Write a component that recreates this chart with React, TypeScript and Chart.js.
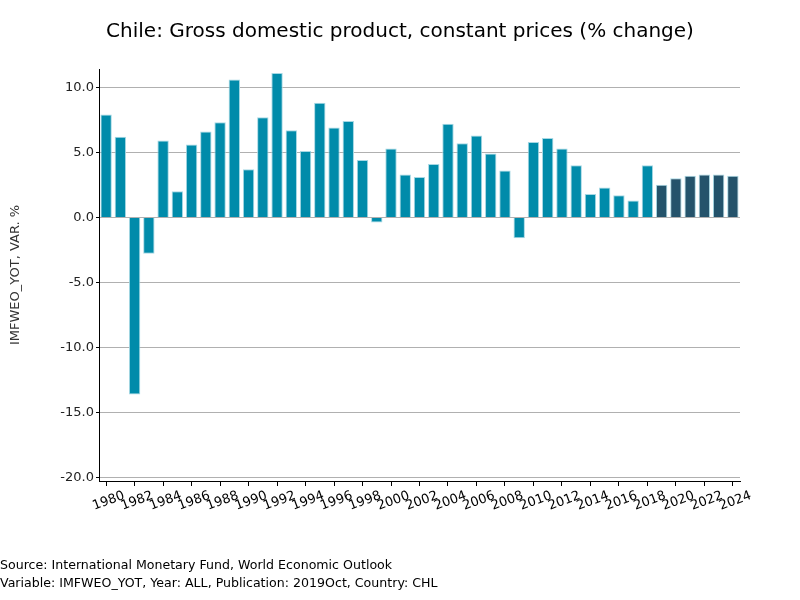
import React, { useEffect, useRef } from 'react';
import { Chart, registerables } from 'chart.js';

Chart.register(...registerables);

const years = [
  '1980', '1981', '1982', '1983', '1984', '1985', '1986', '1987', '1988', '1989',
  '1990', '1991', '1992', '1993', '1994', '1995', '1996', '1997', '1998', '1999',
  '2000', '2001', '2002', '2003', '2004', '2005', '2006', '2007', '2008', '2009',
  '2010', '2011', '2012', '2013', '2014', '2015', '2016', '2017', '2018', '2019',
  '2020', '2021', '2022', '2023', '2024',
];

const growth = [
  7.9, 6.2, -13.6, -2.8, 5.9, 2.0, 5.6, 6.6, 7.3, 10.6,
  3.7, 7.7, 11.1, 6.7, 5.1, 8.8, 6.9, 7.4, 4.4, -0.4,
  5.3, 3.3, 3.1, 4.1, 7.2, 5.7, 6.3, 4.9, 3.6, -1.6,
  5.8, 6.1, 5.3, 4.0, 1.8, 2.3, 1.7, 1.3, 4.0, 2.5,
  3.0, 3.2, 3.3, 3.3, 3.2,
];

const firstForecastYear = '2019';

const yTickValues = [-20, -15, -10, -5, 0, 5, 10];

const titleText = 'Chile: Gross domestic product, constant prices (% change)';
const yAxisTitle = 'IMFWEO_YOT, VAR. %';
const footerLines = [
  'Source: International Monetary Fund, World Economic Outlook',
  'Variable: IMFWEO_YOT, Year: ALL, Publication: 2019Oct, Country: CHL',
];

const ACTUAL_COLOR = '#008baa';
const FORECAST_COLOR = '#24536b';
const EDGE_COLOR = '#a6d8e4';
const FONT = 'DejaVu Sans';

export default function App() {
  const canvasRef = useRef<HTMLCanvasElement | null>(null);

  useEffect(() => {
    if (!canvasRef.current) return;
    const forecastIdx = years.indexOf(firstForecastYear);
    const colors = years.map((_, i) => (i >= forecastIdx ? FORECAST_COLOR : ACTUAL_COLOR));

    const chart = new Chart(canvasRef.current, {
      type: 'bar',
      data: {
        labels: years,
        datasets: [
          {
            data: growth,
            backgroundColor: colors,
            borderColor: EDGE_COLOR,
            borderWidth: 1,
            barPercentage: 0.8,
            categoryPercentage: 1.0,
            yAxisID: 'y',
          },
        ],
      },
      options: {
        animation: false,
        responsive: false,
        devicePixelRatio: 1,
        layout: { padding: 0 },
        font: { family: FONT },
        plugins: {
          legend: { display: false },
          tooltip: { enabled: false },
          title: {
            display: true,
            text: titleText,
            color: '#000',
            font: { family: FONT, size: 20, weight: 'normal', lineHeight: 1.2 },
            padding: { top: 20, bottom: 25 },
          },
          subtitle: {
            display: true,
            position: 'bottom',
            align: 'start',
            text: footerLines,
            color: '#000',
            font: { family: FONT, size: 12.6, weight: 'normal', lineHeight: 18 / 12.6 },
            padding: { top: 0, bottom: 7 },
          },
        },
        scales: {
          x: {
            type: 'category',
            offset: true,
            grid: {
              display: true,
              offset: false,
              drawOnChartArea: false,
              drawTicks: true,
              tickLength: 5,
              tickWidth: 1,
              tickColor: (ctx: any) => (ctx.index % 2 === 0 ? '#000' : 'rgba(0,0,0,0)'),
            },
            border: { display: true, color: '#000', width: 1 },
            ticks: {
              autoSkip: false,
              minRotation: 20,
              maxRotation: 20,
              labelOffset: 18,
              padding: 2,
              color: '#000',
              font: { family: FONT, size: 13 },
              callback: (_v: any, i: number) => (i % 2 === 0 ? years[i] : ''),
            },
            afterFit: (s: any) => {
              s.height = 76;
            },
          },
          y: {
            type: 'linear',
            position: 'left',
            min: -20.25,
            max: 11.4,
            afterBuildTicks: (s: any) => {
              s.ticks = yTickValues.map((v) => ({ value: v }));
            },
            grid: {
              color: '#b0b0b0',
              lineWidth: 1,
              drawTicks: true,
              tickLength: 3,
              tickColor: '#000',
            },
            border: { display: true, color: '#000', width: 1 },
            ticks: {
              color: '#222',
              padding: 2,
              font: { family: FONT, size: 13 },
              callback: (v: any) => Number(v).toFixed(1),
            },
            title: {
              display: true,
              text: yAxisTitle,
              color: '#333',
              font: { family: FONT, size: 13 },
              padding: { top: 8, bottom: 0 },
            },
            afterFit: (s: any) => {
              s.width = 99;
            },
          },
          yr: {
            type: 'linear',
            position: 'right',
            display: true,
            grid: { display: false, drawTicks: false },
            border: { display: false },
            ticks: { display: false },
            afterFit: (s: any) => {
              s.width = 60;
            },
          },
        },
      },
    } as any);

    return () => chart.destroy();
  }, []);

  return (
    <div style={{ position: 'absolute', left: 0, top: 0, width: 800, height: 600, background: '#fff' }}>
      <canvas ref={canvasRef} width={800} height={600} style={{ display: 'block' }} />
    </div>
  );
}
